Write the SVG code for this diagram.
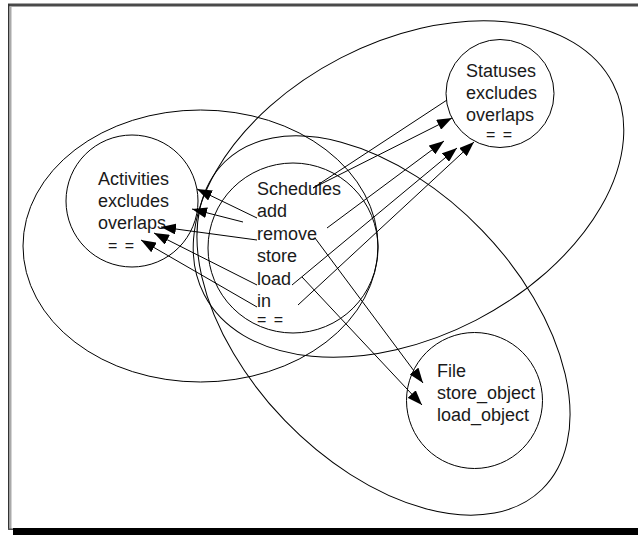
<svg xmlns="http://www.w3.org/2000/svg" width="638" height="535" viewBox="0 0 638 535">
<style>
.sh{fill:none;stroke:#000;stroke-width:1}
.t{font-family:"Liberation Sans",Arial,sans-serif;font-size:18px;fill:#1a1a1a}
.q{font-family:"Liberation Sans",Arial,sans-serif;font-size:16px;letter-spacing:1.5px;fill:#1a1a1a}
.c{fill:none;stroke:#000;stroke-width:1}
</style>
<defs>
<marker id="ah" viewBox="0 0 15 11" refX="15" refY="5.5" markerWidth="15" markerHeight="11" markerUnits="userSpaceOnUse" orient="auto">
<path d="M0,0 L15,5.5 L0,11 z" fill="#000"/>
</marker>
</defs>
<rect width="638" height="535" fill="#fff"/>
<g id="frame">
<rect x="8" y="3.5" width="630" height="3" fill="#4a4a4a"/>
<rect x="8" y="4" width="1.5" height="526" fill="#333"/>
<rect x="9.5" y="6" width="2" height="523" fill="#aaa"/>
<rect x="8" y="528.5" width="6" height="1.5" fill="#555"/>
<rect x="13" y="528" width="625" height="7" fill="#000"/>
</g>
<g id="groups">
<ellipse id="activities-group" class="sh" cx="200.5" cy="246" rx="177.5" ry="136"/>
<ellipse id="statuses-group" class="sh" cx="408.5" cy="189" rx="230" ry="147.5" transform="rotate(-27.3 408.5 189)"/>
<ellipse id="file-group" class="sh" cx="383.5" cy="325.5" rx="228" ry="137" transform="rotate(46 383.5 325.5)"/>
</g>
<g id="activities">
<circle class="sh" cx="132" cy="201" r="66"/>
<text class="t" x="98" y="185">Activities</text>
<text class="t" x="98" y="207">excludes</text>
<text class="t" x="98" y="229">overlaps</text>
<text class="q" x="108" y="251">= =</text>
</g>
<g id="statuses">
<circle class="sh" cx="500" cy="93.5" r="54"/>
<text class="t" x="466" y="77">Statuses</text>
<text class="t" x="466" y="99">excludes</text>
<text class="t" x="466" y="121">overlaps</text>
<text class="q" x="486" y="140">= =</text>
</g>
<g id="schedules">
<circle class="sh" cx="293" cy="248" r="85"/>
<text class="t" x="257" y="195">Schedules</text>
<text class="t" x="257" y="217">add</text>
<text class="t" x="257" y="240">remove</text>
<text class="t" x="257" y="262">store</text>
<text class="t" x="257" y="285">load</text>
<text class="t" x="257" y="307">in</text>
<text class="q" x="257" y="324.5">= =</text>
</g>
<g id="file">
<circle class="sh" cx="474.5" cy="400.5" r="68"/>
<text class="t" x="437" y="377">File</text>
<text class="t" x="437" y="399">store_object</text>
<text class="t" x="437" y="421">load_object</text>
</g>
<g id="connectors">
<line class="c" x1="257" y1="218" x2="197" y2="189" marker-end="url(#ah)"/>
<line class="c" x1="243" y1="222" x2="192" y2="209" marker-end="url(#ah)"/>
<line class="c" x1="257" y1="240" x2="161" y2="227" marker-end="url(#ah)"/>
<line class="c" x1="257" y1="285" x2="154" y2="233" marker-end="url(#ah)"/>
<line class="c" x1="257" y1="307" x2="141" y2="240" marker-end="url(#ah)"/>
<line class="c" x1="313" y1="188" x2="447" y2="100"/>
<line class="c" x1="313" y1="188" x2="452" y2="118" marker-end="url(#ah)"/>
<line class="c" x1="327" y1="228" x2="444" y2="141" marker-end="url(#ah)"/>
<line class="c" x1="292" y1="285" x2="457" y2="148" marker-end="url(#ah)"/>
<line class="c" x1="298" y1="305" x2="474" y2="142" marker-end="url(#ah)"/>
<line class="c" x1="315" y1="238" x2="423" y2="383" marker-end="url(#ah)"/>
<line class="c" x1="302" y1="277" x2="422" y2="405" marker-end="url(#ah)"/>
</g>
</svg>
